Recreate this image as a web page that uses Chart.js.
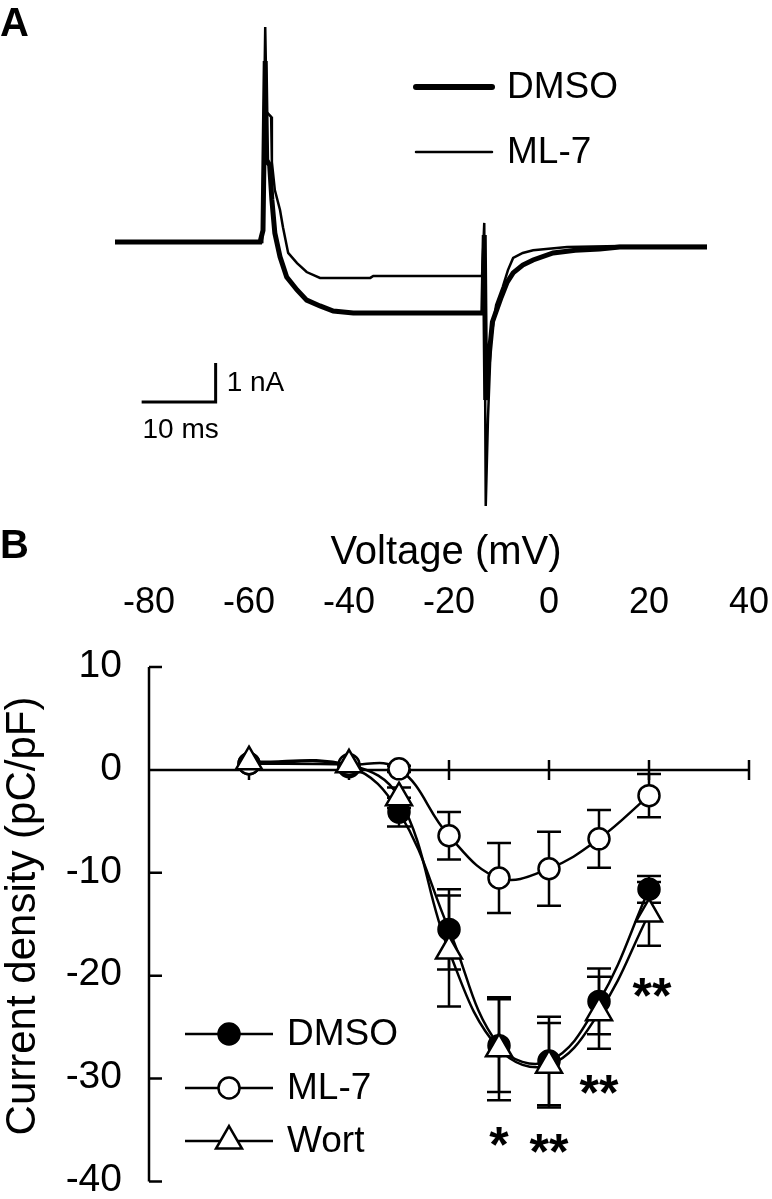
<!DOCTYPE html>
<html>

<head>
  <title>ML-7 y corriente de Ca</title>
  <script src="https://cdn.jsdelivr.net/npm/chart.js@4.4.0/dist/chart.umd.min.js"></script>
  <style>
    body { margin: 0; background: #fff; }
    #wrap { position: relative; width: 772px; height: 1199px; font-family: "Liberation Sans", Arial, sans-serif; }
    .panel { position: absolute; left: 0; font-weight: bold; font-size: 40px; line-height: 1; }
    #traces { position: absolute; left: 0; top: 0; }
    #iv { position: absolute; left: 0; top: 530px; }
  </style>
</head>

<body>
  <div id="wrap">
    <canvas id="traces" width="772" height="530"></canvas>
    <canvas id="iv" width="772" height="669"></canvas>
    <div class="panel" style="top:2px">A</div>
    <div class="panel" style="top:524px">B</div>
  </div>

  <script>
    // Panel A: current traces (time in ms, current in nA)
    const dmsoTime = [0, 19.6, 20.0, 20.3, 20.5, 20.9, 21.2, 21.6, 22.3, 23.2, 24.6, 25.9, 27.7, 29.5, 32.2, 49.7, 49.9, 50.1, 50.5, 51.0, 52.2, 53.0, 53.8, 55.1, 56.5, 59.2, 62.2, 65.5, 68.2, 80];
    const dmsoCurrent = [0, 0, 0.3, 4.64, 2.10, 1.97, 1.08, 0.23, -0.38, -0.90, -1.23, -1.49, -1.64, -1.77, -1.82, -1.82, 0.18, -4.05, -3.03, -2.05, -1.41, -1.03, -0.79, -0.59, -0.46, -0.28, -0.21, -0.18, -0.13, -0.13];
    const ml7Time = [0, 19.9, 20.3, 20.5, 21.1, 21.2, 21.6, 22.3, 22.7, 23.4, 24.6, 25.9, 27.7, 34.5, 34.9, 49.6, 49.9, 50.1, 50.4, 50.8, 51.5, 52.4, 53.1, 53.8, 55.1, 56.5, 61.1, 68.2, 80];
    const ml7Current = [0, 0, 5.51, 3.33, 3.21, 2.05, 1.33, 0.82, 0.38, -0.28, -0.54, -0.77, -0.92, -0.92, -0.87, -0.87, 0.49, -6.77, -4.54, -2.51, -1.62, -1.15, -0.72, -0.41, -0.28, -0.21, -0.13, -0.10, -0.10];
    const scaleBarStart = [3.6, -4.1]; // ms, nA
    const scaleBarTime = 10;
    const scaleBarCurrent = 1;

    // Panel B: current density vs voltage
    const voltages = [-60, -40, -30, -20, -10, 0, 10, 20];
    const dmsoDensity = [0.6, 0.3, -4.1, -15.5, -26.8, -28.3, -22.5, -11.6];
    const dmsoSem = [0, 0, 1.4, 3.9, 4.5, 4.3, 3.2, 1.3];
    const ml7Density = [0.6, 0.5, 0.1, -6.4, -10.5, -9.6, -6.7, -2.5];
    const ml7Sem = [0, 0, 0.3, 2.3, 3.4, 3.6, 2.8, 2.1];
    const wortDensity = [0.8, 0.5, -2.7, -17.6, -27.1, -28.7, -23.6, -14.0];
    const wortSem = [0, 0, 1.0, 5.4, 5.0, 4.1, 3.5, 3.1];
    const xTicks = [-80, -60, -40, -20, 0, 20, 40];
    const yTicks = [10, 0, -10, -20, -30, -40];
    const sigVoltage = [-10, 0, 10, 20.6];
    const sigLevel = [-35.1, -35.8, -30.1, -20.6];
    const sigMark = ['*', '**', '**', '**'];

    const FONT = '"Liberation Sans", Arial, sans-serif';
    Chart.defaults.font.family = FONT;
    Chart.defaults.color = '#000';

    function toXY(xs, ys) {
      return xs.map((v, i) => ({ x: v, y: ys[i] }));
    }

    // legend and scale bar of panel A
    const traceExtras = {
      id: 'traceExtras',
      afterDraw(chart) {
        const { ctx, scales: { x, y } } = chart;
        ctx.save();
        ctx.strokeStyle = '#000';
        ctx.fillStyle = '#000';
        ctx.lineCap = 'round';
        chart.data.datasets.forEach((ds, i) => {
          const ly = [87, 152][i];
          ctx.lineWidth = ds.borderWidth + (i === 0 ? 1 : 0);
          ctx.beginPath();
          ctx.moveTo(416, ly);
          ctx.lineTo(492, ly);
          ctx.stroke();
          ctx.font = '37px ' + FONT;
          ctx.textAlign = 'left';
          ctx.textBaseline = 'middle';
          ctx.fillText(ds.label, 507, ly + 1);
        });

        const bx0 = x.getPixelForValue(scaleBarStart[0]);
        const bx1 = x.getPixelForValue(scaleBarStart[0] + scaleBarTime);
        const by0 = y.getPixelForValue(scaleBarStart[1]);
        const by1 = y.getPixelForValue(scaleBarStart[1] + scaleBarCurrent);
        ctx.lineCap = 'butt';
        ctx.lineWidth = 3;
        ctx.beginPath();
        ctx.moveTo(bx0, by0);
        ctx.lineTo(bx1, by0);
        ctx.lineTo(bx1, by1);
        ctx.stroke();
        ctx.font = '28px ' + FONT;
        ctx.textBaseline = 'middle';
        ctx.textAlign = 'left';
        ctx.fillText(scaleBarCurrent + ' nA', bx1 + 11, (by0 + by1) / 2 + 1);
        ctx.textAlign = 'center';
        ctx.fillText(scaleBarTime + ' ms', (bx0 + bx1) / 2 + 2, by0 + 28);
        ctx.restore();
      }
    };

    new Chart(document.getElementById('traces'), {
      type: 'line',
      data: {
        datasets: [
          { label: 'DMSO', data: toXY(dmsoTime, dmsoCurrent), borderColor: '#000', borderWidth: 5, pointRadius: 0, tension: 0 },
          { label: 'ML-7', data: toXY(ml7Time, ml7Current), borderColor: '#000', borderWidth: 2.5, pointRadius: 0, tension: 0 }
        ]
      },
      options: {
        responsive: false,
        animation: false,
        events: [],
        layout: { padding: { left: 115, right: 65, top: 8, bottom: 15 } },
        scales: {
          x: { type: 'linear', min: 0, max: 80, display: false },
          y: { type: 'linear', min: -7, max: 6, display: false }
        },
        plugins: { legend: { display: false }, tooltip: { enabled: false } }
      },
      plugins: [traceExtras]
    });

    // axes, error bars, legend and asterisks of panel B
    const ivExtras = {
      id: 'ivExtras',
      beforeDatasetsDraw(chart) {
        const { ctx, chartArea, scales: { x, y } } = chart;
        ctx.save();
        ctx.strokeStyle = '#000';
        ctx.fillStyle = '#000';
        ctx.lineWidth = 2.5;
        ctx.lineCap = 'butt';

        // y axis at the left end of the voltage range
        const ax = x.getPixelForValue(xTicks[0]);
        ctx.beginPath();
        ctx.moveTo(ax, y.getPixelForValue(yTicks[0]));
        ctx.lineTo(ax, y.getPixelForValue(yTicks[yTicks.length - 1]));
        yTicks.forEach(v => {
          const py = y.getPixelForValue(v);
          ctx.moveTo(ax, py);
          ctx.lineTo(ax + 13, py);
        });
        // x axis through zero
        const y0 = y.getPixelForValue(0);
        ctx.moveTo(ax, y0);
        ctx.lineTo(x.getPixelForValue(xTicks[xTicks.length - 1]), y0);
        xTicks.slice(1).forEach(v => {
          const px = x.getPixelForValue(v);
          ctx.moveTo(px, y0 - 10);
          ctx.lineTo(px, y0 + 10);
        });
        ctx.stroke();

        ctx.font = '39px ' + FONT;
        ctx.textAlign = 'right';
        ctx.textBaseline = 'middle';
        yTicks.forEach(v => ctx.fillText(String(v), ax - 27, y.getPixelForValue(v) - 1));

        ctx.font = '36px ' + FONT;
        ctx.textAlign = 'center';
        xTicks.forEach(v => ctx.fillText(String(v), x.getPixelForValue(v), chartArea.top - 64));

        ctx.font = '40px ' + FONT;
        ctx.textBaseline = 'alphabetic';
        ctx.fillText('Voltage (mV)', (chartArea.left + chartArea.right) / 2 - 3, 34);

        ctx.save();
        ctx.translate(35, 386);
        ctx.rotate(-Math.PI / 2);
        ctx.font = '42px ' + FONT;
        ctx.fillText('Current density (pC/pF)', 0, 0);
        ctx.restore();

        // error bars
        chart.data.datasets.forEach(ds => {
          ds.data.forEach((pt, i) => {
            const e = ds.errors[i];
            if (!e) return;
            const px = x.getPixelForValue(pt.x);
            const hi = y.getPixelForValue(pt.y + e);
            const lo = y.getPixelForValue(pt.y - e);
            ctx.beginPath();
            ctx.moveTo(px, hi);
            ctx.lineTo(px, lo);
            ctx.moveTo(px - 12, hi);
            ctx.lineTo(px + 12, hi);
            ctx.moveTo(px - 12, lo);
            ctx.lineTo(px + 12, lo);
            ctx.stroke();
          });
        });
        ctx.restore();
      },
      afterDraw(chart) {
        const { ctx, scales: { x, y } } = chart;
        ctx.save();
        ctx.strokeStyle = '#000';
        ctx.fillStyle = '#000';
        ctx.lineWidth = 2.5;

        // legend
        const rows = [504, 558, 611];
        chart.data.datasets.forEach((ds, i) => {
          const ly = rows[i];
          ctx.beginPath();
          ctx.moveTo(185, ly);
          ctx.lineTo(273, ly);
          ctx.stroke();
          ctx.fillStyle = ds.pointBackgroundColor;
          Chart.helpers.drawPoint(ctx, { pointStyle: ds.pointStyle, radius: ds.pointRadius, borderWidth: ds.pointBorderWidth, rotation: 0 }, 229, ly);
          ctx.fillStyle = '#000';
          ctx.font = '37px ' + FONT;
          ctx.textAlign = 'left';
          ctx.textBaseline = 'middle';
          ctx.fillText(ds.label, 287, ly + 1);
        });

        // significance marks
        ctx.font = 'bold 50px ' + FONT;
        ctx.textAlign = 'center';
        ctx.textBaseline = 'middle';
        sigMark.forEach((m, i) => {
          ctx.fillText(m, x.getPixelForValue(sigVoltage[i]), y.getPixelForValue(sigLevel[i]) + 17);
        });
        ctx.restore();
      }
    };

    const common = { borderColor: '#000', borderWidth: 2.5, pointBorderColor: '#000', pointBorderWidth: 2.5, tension: 0.4 };

    new Chart(document.getElementById('iv'), {
      type: 'line',
      data: {
        datasets: [
          { ...common, label: 'DMSO', data: toXY(voltages, dmsoDensity), errors: dmsoSem, order: 2, pointStyle: 'circle', pointRadius: 10.5, pointBackgroundColor: '#000' },
          { ...common, label: 'ML-7', data: toXY(voltages, ml7Density), errors: ml7Sem, order: 1, pointStyle: 'circle', pointRadius: 10.5, pointBackgroundColor: '#fff' },
          { ...common, label: 'Wort', data: toXY(voltages, wortDensity), errors: wortSem, order: 0, pointStyle: 'triangle', pointRadius: 15, pointBackgroundColor: '#fff' }
        ]
      },
      options: {
        responsive: false,
        animation: false,
        events: [],
        layout: { padding: { left: 149, right: 23, top: 137, bottom: 7 } },
        scales: {
          x: { type: 'linear', min: -80, max: 40, display: false },
          y: { type: 'linear', min: -40, max: 10, display: false }
        },
        plugins: { legend: { display: false }, tooltip: { enabled: false } }
      },
      plugins: [ivExtras]
    });
  </script>
</body>

</html>
